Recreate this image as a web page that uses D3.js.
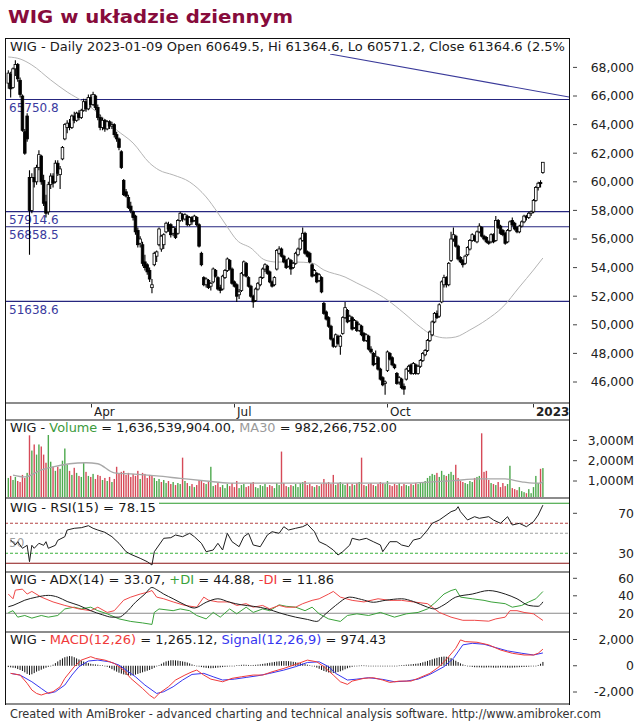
<!DOCTYPE html>
<html><head><meta charset="utf-8">
<script src="https://cdn.jsdelivr.net/npm/d3@7"></script>
<style>body{margin:0;background:#fff}svg{display:block}</style>
</head><body><svg id="c" width="641" height="722"></svg>
<script>
// ---------- DATA ----------
const startDate = "2022-02-11";
const holidays = ["2022-04-15","2022-04-18","2022-05-03","2022-06-16","2022-08-15","2022-11-01","2022-11-11","2022-12-26","2023-01-06"];
const monthTicks = [{ym:"2022-04",label:"Apr"},{ym:"2022-07",label:"Jul"},{ym:"2022-10",label:"Oct"},{ym:"2023-01",label:"2023"}];
// OHLC in thousands of points
const opens = [66.9,67.5,66.6,67.9,68.2,67.1,66.0,63.5,64.6,60.3,
58.0,60.3,60.0,61.0,61.8,60.1,58.6,57.9,59.8,60.4,
60.0,61.3,60.5,61.6,63.0,63.8,64.1,63.8,64.6,64.3,
64.8,64.5,65.0,65.6,65.1,65.9,65.4,66.0,65.2,64.5,
63.8,64.3,63.7,64.2,63.9,64.0,63.3,63.0,62.1,60.1,
59.3,58.9,58.3,57.9,57.6,56.6,55.7,55.6,54.4,54.2,
53.8,52.6,54.2,54.8,55.6,55.3,55.6,56.5,57.0,57.0,
56.4,56.7,56.4,57.3,57.7,57.4,57.6,57.0,57.5,57.3,
57.5,57.0,55.0,53.3,52.8,53.1,52.7,53.0,53.8,53.3,
52.6,52.5,53.3,53.8,54.5,53.9,53.0,52.8,52.1,52.4,
53.5,54.3,53.3,52.7,52.0,51.7,52.5,52.8,53.3,53.9,
54.1,53.7,53.0,52.8,53.9,55.0,55.3,54.8,54.5,54.1,
54.5,54.0,54.3,54.9,55.3,55.9,56.4,55.1,55.0,54.2,
53.5,53.6,53.1,53.3,51.5,50.9,50.5,49.9,49.0,48.5,
49.2,48.5,49.4,50.5,51.0,50.3,50.5,49.8,50.2,49.6,
49.9,49.4,48.9,49.2,48.3,48.0,47.3,47.7,46.9,46.3,
45.9,46.8,48.0,47.7,47.2,46.6,46.0,46.2,45.7,46.2,
46.8,47.2,46.6,47.2,46.6,47.1,47.5,47.9,48.2,48.9,
49.3,50.2,50.8,50.6,51.6,52.8,53.3,52.8,54.5,56.0,
56.2,55.5,54.7,54.5,54.3,54.9,55.3,55.9,56.2,55.8,
56.5,56.8,56.2,56.1,55.8,55.8,56.3,55.9,57.3,56.9,
56.6,56.4,55.8,56.6,57.3,57.1,56.8,56.5,56.9,57.2,
57.6,57.5,57.8,57.9,58.7,59.6,59.95,60.6495];
const highs = [67.8,67.7,68.0,68.5,68.3,67.3,66.1,63.7,64.8,60.8,
60.6,61.0,61.2,62.2,61.9,60.5,59.1,60.0,60.6,60.6,
61.5,61.5,61.1,62.5,64.1,64.3,64.4,64.7,64.9,64.9,
65.0,65.1,65.8,65.8,66.1,66.1,66.3,66.1,65.4,64.7,
64.5,64.4,64.3,64.3,64.2,64.1,63.5,63.1,62.2,60.2,
59.5,59.1,58.6,58.0,57.7,56.8,56.2,55.8,54.9,54.3,
54.0,53.2,55.1,55.2,56.8,56.3,56.4,57.2,57.2,57.1,
56.9,56.8,57.4,57.9,57.8,57.8,57.7,57.6,57.6,57.7,
57.6,57.1,55.1,53.4,53.3,53.2,53.0,54.0,53.9,53.4,
52.8,53.5,53.9,54.7,54.6,54.0,53.1,52.9,52.5,53.7,
54.5,54.4,53.4,52.8,52.1,52.6,53.0,53.4,54.0,54.3,
54.2,53.8,53.1,53.4,55.3,55.5,55.4,54.9,54.6,54.7,
54.6,54.4,55.1,55.4,56.1,56.8,56.5,55.2,55.1,54.3,
53.9,53.7,53.6,53.4,51.6,51.0,50.6,50.0,49.1,49.4,
49.3,49.3,50.6,51.6,51.1,50.7,50.6,50.4,50.3,50.1,
50.0,49.5,49.4,49.3,48.5,48.1,48.2,47.8,47.0,46.4,
46.1,48.2,48.1,47.8,47.3,46.7,46.4,46.3,45.9,47.0,
47.2,47.3,47.4,47.3,47.2,47.6,48.1,48.3,49.0,49.6,
50.3,50.9,51.0,51.5,53.1,53.5,53.4,54.4,56.5,56.8,
56.3,55.6,54.8,54.6,54.9,55.5,56.0,56.4,56.3,56.6,
57.1,56.9,56.3,56.2,55.9,56.4,56.4,57.6,57.4,57.0,
56.7,56.5,56.7,57.3,57.5,57.2,56.9,57.0,57.3,57.7,
57.7,57.9,58.0,58.8,59.7,60.0,60.1,61.3646];
const lows = [66.5,65.9,66.5,67.4,67.0,65.9,63.5,61.9,62.8,54.9,
57.8,59.6,59.8,60.8,59.8,58.3,57.5,57.7,59.5,59.6,
59.9,60.4,59.5,61.5,62.9,63.4,63.6,63.7,64.1,64.2,
64.3,64.4,64.9,64.9,65.0,65.2,65.3,65.0,64.3,63.6,
63.6,63.5,63.6,63.7,63.7,63.1,62.8,62.2,60.9,59.0,
58.9,58.1,57.8,57.3,56.3,55.4,55.4,54.1,53.8,53.5,
53.0,52.2,54.1,54.4,55.5,55.1,55.3,56.4,56.5,56.1,
56.2,56.0,56.3,57.2,57.2,57.3,56.9,56.9,57.0,57.2,
56.9,55.4,54.1,52.7,52.6,52.5,52.4,52.9,53.3,52.4,
52.2,52.4,53.2,53.7,53.8,52.8,52.6,51.6,51.8,52.3,
53.4,53.3,52.6,51.9,51.2,51.6,52.4,52.7,53.2,53.7,
53.5,52.9,52.6,52.7,53.8,54.9,54.7,54.3,53.9,54.0,
53.5,53.9,54.2,54.8,55.2,55.8,54.9,54.7,54.3,53.3,
53.4,52.9,53.0,52.2,50.7,50.3,49.8,48.9,48.4,48.4,
48.6,47.9,49.3,50.4,50.1,50.2,49.6,49.7,49.5,49.5,
49.2,48.8,48.8,48.2,48.0,47.1,47.2,46.8,46.1,45.7,
45.1,46.7,47.5,47.1,46.9,45.8,45.8,45.5,45.1,46.1,
46.7,46.5,46.5,46.5,46.5,47.0,47.4,47.8,48.1,48.8,
49.2,50.1,50.4,50.5,51.5,52.6,52.6,52.7,54.4,55.8,
55.4,54.5,54.3,54.0,54.2,54.8,55.2,55.8,55.8,55.7,
56.4,56.1,55.9,55.7,55.6,55.7,55.7,55.8,56.7,56.3,
56.2,55.6,55.7,56.5,56.9,56.6,56.4,56.4,56.8,57.1,
57.3,57.4,57.6,57.8,58.6,59.4,59.6,60.5712];
const closes = [67.6,66.5,67.9,68.2,67.2,66.1,63.6,62.0,63.0,58.0,
60.3,60.0,61.0,61.9,60.0,58.5,57.8,59.8,60.4,59.9,
61.3,60.6,60.9,62.4,64.0,64.1,63.8,64.6,64.3,64.8,
64.5,65.0,65.6,65.1,65.9,65.4,66.1,65.2,64.5,63.8,
64.3,63.7,64.2,63.9,64.0,63.3,63.0,62.4,61.0,59.1,
59.0,58.2,58.0,57.5,56.5,55.6,56.0,54.3,54.0,53.7,
53.2,52.8,55.0,55.1,56.7,56.2,56.3,57.1,56.7,56.3,
56.8,56.1,57.3,57.8,57.4,57.7,57.0,57.5,57.2,57.6,
57.0,55.5,54.2,52.8,53.2,52.6,52.9,53.9,53.4,52.5,
52.4,53.4,53.8,54.6,53.9,52.9,52.7,52.0,52.3,53.6,
54.4,53.4,52.7,52.0,51.6,52.5,52.9,53.3,53.9,54.2,
53.6,53.0,52.7,53.3,55.2,55.3,54.8,54.4,54.0,54.6,
53.9,54.3,55.0,55.3,56.0,56.4,55.0,54.8,54.4,53.4,
53.8,53.0,53.5,52.3,50.8,50.4,49.9,49.0,48.5,49.3,
48.7,49.2,50.5,51.2,50.2,50.6,49.7,50.3,49.6,50.0,
49.3,48.9,49.3,48.3,48.1,47.2,47.8,46.9,46.2,45.8,
46.0,48.1,47.6,47.2,47.0,45.9,46.3,45.6,45.5,46.9,
47.1,46.6,47.3,46.6,47.1,47.5,48.0,48.2,48.9,49.5,
50.2,50.8,50.5,51.4,53.0,53.3,52.8,54.3,56.0,56.3,
55.5,54.6,54.4,54.2,54.8,55.4,55.9,56.3,55.9,56.5,
56.9,56.2,56.0,55.8,55.7,56.3,55.8,57.3,56.8,56.4,
56.3,55.7,56.6,57.2,57.0,56.7,56.5,56.9,57.2,57.6,
57.5,57.8,57.9,58.7,59.6,59.9,59.87,61.3646];
// moving average on price (bar index, thousands)
const priceMA = [[0,68.73],[5,68.59],[10,68.17],[18,67.12],[25,66.28],[32,65.58],[39,64.67],[46,63.62],[53,62.71],[60,61.31],[64,60.82],[70,60.48],[77,59.99],[84,58.94],[89,57.82],[93,56.84],[97,55.93],[103,55.37],[109,54.53],[114,54.39],[122,54.39],[129,54.32],[134,53.83],[143,53.34],[148,52.92],[154,52.43],[161,51.73],[168,50.82],[175,49.84],[180,49.29],[186,49.08],[190,49.15],[196,49.64],[203,50.34],[210,51.25],[217,52.64],[223,53.83],[227,54.67]];
const levels = [65750.8, 57914.6, 56858.5, 51638.6];
const trendLine = [[136.6,68.94],[238.1,65.93]];
const priceTicks = [46,48,50,52,54,56,58,60,62,64,66,68];
// volume in millions
const volume = [1150,1250,1050,1200,1000,950,1300,1150,1400,3250,
2500,2800,2300,2800,2700,2300,1900,3300,1950,1700,
1500,1700,1600,2000,2600,1800,1500,1300,1650,1400,
1250,1200,1900,1450,1250,1200,1350,1100,1300,1250,
1050,1150,1000,1200,950,1100,1700,1350,1450,1500,
1300,1400,1200,1350,1250,1500,1100,1400,1350,1150,
1300,1250,1150,1000,1100,950,1050,900,1000,850,
950,800,900,850,2150,1000,900,750,850,700,
800,1050,1000,900,850,950,1700,750,800,900,
700,800,650,850,750,900,700,1000,650,800,
850,700,750,900,950,700,650,800,750,850,
700,800,750,650,900,800,2450,900,750,700,
800,750,850,700,900,950,1000,800,850,750,
700,800,750,850,1100,900,950,850,1300,800,
900,950,850,800,900,750,850,800,900,950,
2150,800,750,850,900,800,750,850,950,900,
850,1000,800,750,850,800,900,750,850,800,
750,850,800,900,850,950,900,1000,1150,1250,
1350,1300,1400,1200,1500,1300,1250,1350,1450,1300,
1800,1150,1000,950,900,850,1000,950,1150,1200,
1250,3350,1450,1500,1050,900,850,800,950,700,
900,750,850,1750,650,600,550,700,500,450,
400,600,400,700,1250,900,1600,1636.5];
const volumeMA30 = [[2,1290],[7,1200],[14,1550],[19,1700],[26,1850],[33,1900],[38,1850],[45,1400],[52,1350],[63,1250],[73,1130],[84,1000],[94,900],[118,900],[153,900],[171,900],[180,960],[188,1010],[200,1100],[211,1100],[218,960],[223,900],[226,900],[227,982]];
const volumeTicks = [1000,2000,3000];
const rsi = [[1,43.3],[3,38.3],[4,41.6],[6,35],[8,38],[9,21.6],[10,38],[11,35],[13,40],[15,38],[16,41.6],[17,35],[20,38],[21,43],[24,46.6],[25,53.3],[28,55],[31,55.6],[34,57.6],[36,55],[38,53.3],[41,51],[44,46.6],[47,40],[50,31.6],[52,29],[56,25],[59,21.6],[61,18.3],[62,31.6],[64,38.3],[66,45],[69,45.6],[71,48.3],[74,46.6],[77,50],[79,46.6],[82,40],[84,31.6],[87,33.3],[89,40],[91,33.3],[93,50],[95,41.6],[98,36.6],[100,46.6],[102,50],[104,38.3],[107,36.6],[110,48.3],[112,51.6],[115,50],[117,56.6],[119,53.3],[122,55],[125,56.6],[127,59],[130,51.6],[132,41.6],[135,38.3],[138,33.3],[140,28.3],[142,31.6],[145,38.3],[146,45],[149,43.3],[152,45],[155,41.6],[158,38.3],[159,31.6],[162,41.6],[165,41.6],[167,38.3],[170,36.6],[172,43.3],[175,45],[178,53.3],[180,60],[183,63.3],[185,66.6],[188,71.6],[190,73.3],[191,76.6],[192,71.6],[195,63.3],[198,66.6],[200,65],[204,66.6],[206,63.3],[209,60],[212,66.6],[214,58.3],[217,60],[220,56.6],[223,61.6],[225,68.3],[227,78.15]];
const rsiLevels = [{v:80,c:"#2b9a2b",d:null},{v:60,c:"#b54545",d:"3,2"},{v:50,c:"#a0a0a0",d:"3,2"},{v:30,c:"#3cb03c",d:"3,2"},{v:20,c:"#8b1414",d:null}];
const rsiTicks = [30,70];
const adx = [[0,27.5],[2,29],[7,35],[12,38.5],[17,40.5],[21,38.5],[25,33.5],[30,29],[35,23],[40,18.3],[44,15.6],[47,15.6],[50,21],[54,32.6],[58,42],[61,49.5],[63,47],[66,42],[70,36.6],[75,29.7],[79,26],[84,32.6],[89,36.6],[94,32.6],[99,29.7],[104,28],[110,25],[115,20.6],[122,15.6],[127,13],[131,10.7],[134,17.5],[139,29],[145,38.5],[150,35.8],[155,32.6],[160,34.8],[167,36.6],[172,33.5],[178,27],[181,25],[185,29.7],[190,38.5],[197,42],[204,46],[211,42],[216,36.6],[221,29],[225,28],[227,33.07]];
const plusDI = [[0,20.6],[2,23],[4,15.6],[7,17.5],[10,14.5],[14,17.5],[17,15.6],[21,17.5],[24,25],[28,27],[31,25],[35,27],[38,23],[42,19.4],[47,13.6],[52,10.7],[57,9],[61,7.3],[62,21],[64,25],[70,23],[73,25],[77,23],[80,17.5],[84,13.6],[87,21],[90,15.6],[94,25],[97,19.4],[101,27],[104,21],[108,25],[111,23],[115,29.7],[118,28],[122,27],[126,23],[129,27],[132,19.4],[136,13.6],[141,10.7],[144,17.5],[148,19.4],[153,17.5],[158,21],[164,15.6],[169,19.4],[174,21],[178,25],[181,31.7],[185,42],[188,46],[190,47.6],[192,38.5],[197,36.6],[202,34.8],[205,33],[211,31],[214,27],[218,29],[221,33],[224,36.6],[227,44.88]];
const minusDI = [[0,42],[2,36.6],[3,46.5],[6,47.6],[8,42],[10,45],[14,38.5],[19,33],[24,29],[30,25],[35,23],[38,27],[42,21],[45,23],[49,35],[52,38.5],[56,42],[59,44],[61,46],[63,38.5],[66,36.6],[70,33],[75,29],[80,27],[83,38.5],[85,35],[89,33],[94,33],[97,29],[101,31],[104,27],[108,29],[111,25],[115,29],[118,27],[122,27],[125,31],[129,34.8],[132,36.6],[136,42],[138,45],[141,38.5],[146,34.8],[151,33],[157,36.6],[162,34.8],[167,34.8],[172,33],[178,31],[183,21],[188,15.6],[193,12],[198,12],[204,11],[207,13.6],[211,15.6],[213,23],[216,23],[219,21],[223,19.4],[225,15.6],[227,11.86]];
const adxTicks = [20,40,60];
const macd = [[1,-580],[5,-710],[8,-1340],[10,-1850],[12,-2110],[14,-2230],[16,-2110],[19,-1980],[22,-1600],[24,-960],[28,-70],[31,430],[35,690],[37,560],[41,430],[45,180],[49,-330],[52,-960],[57,-1730],[60,-2240],[62,-2490],[64,-2110],[68,-1600],[71,-1090],[75,-710],[78,-460],[80,-330],[83,-710],[86,-1020],[91,-1220],[95,-960],[99,-840],[104,-710],[108,-710],[112,-460],[117,-200],[122,100],[127,430],[131,300],[134,-70],[138,-710],[141,-1220],[144,-1420],[146,-1170],[151,-960],[155,-910],[159,-1090],[162,-1270],[166,-1170],[171,-1170],[174,-960],[179,-580],[183,-70],[187,690],[190,1330],[192,1970],[194,1840],[199,1790],[204,1590],[209,1200],[214,950],[219,820],[223,820],[225,950],[227,1265.12]];
const signal = [[1,-580],[5,-710],[10,-1220],[14,-1730],[17,-2110],[20,-1980],[24,-1470],[27,-710],[30,-70],[34,360],[38,430],[43,300],[47,50],[50,-330],[54,-840],[58,-1470],[63,-2110],[66,-1980],[70,-1600],[74,-1090],[78,-660],[83,-580],[87,-840],[91,-1090],[96,-1020],[101,-890],[106,-760],[111,-580],[117,-330],[122,-70],[127,250],[132,300],[136,-70],[139,-580],[144,-1090],[148,-1020],[153,-910],[159,-1040],[164,-1220],[169,-1170],[174,-1020],[179,-660],[185,-70],[189,560],[193,1590],[197,1710],[202,1640],[207,1380],[212,1130],[218,950],[223,820],[227,974.43]];
const macdHist = [-100,-120,-150,-180,-250,-320,-400,-500,-620,-700,
-650,-560,-450,-380,-300,-220,-150,-80,0,80,
200,330,450,560,650,700,740,720,650,560,
480,400,320,250,200,150,120,100,80,50,
30,0,-80,-160,-260,-360,-450,-530,-600,-660,
-700,-730,-750,-720,-680,-620,-560,-500,-440,-380,
-320,-250,-150,-50,50,150,250,330,380,420,
420,410,390,360,330,300,250,180,100,40,
-20,-60,-100,-130,-160,-180,-190,-180,-160,-140,
-120,-100,-80,-60,-40,-20,0,30,50,70,
80,70,60,50,60,70,90,110,140,170,
200,230,260,290,320,340,350,360,360,350,
330,300,270,240,200,160,120,80,40,0,
-60,-140,-230,-320,-400,-460,-510,-540,-550,-530,
-480,-420,-350,-270,-190,-130,-80,-40,-10,10,
20,20,10,0,-10,-20,-30,-40,-40,-50,
-50,-40,-30,-20,-10,0,20,40,60,80,
90,110,130,150,170,210,260,310,370,430,
490,550,600,650,680,700,690,650,580,480,
380,280,180,100,40,-20,-60,-90,-110,-120,
-120,-130,-140,-130,-120,-130,-140,-150,-140,-130,
-120,-130,-140,-150,-140,-130,-120,-110,-100,-90,
-80,-70,-50,-30,0,60,150,290];
const macdTicks = [-2000,0,2000];

// ---------- HELPERS ----------
const FONT = "'DejaVu Sans', Verdana, sans-serif";
const svg = d3.select("#c").attr("font-family", FONT);
const N = closes.length;
// trading calendar
const hol = new Set(holidays);
const dates = [];
{ let d = new Date(startDate + "T12:00:00Z");
  while (dates.length < N) {
    const s = d.toISOString().slice(0,10), wd = d.getUTCDay();
    if (wd !== 0 && wd !== 6 && !hol.has(s)) dates.push(s);
    d = new Date(d.getTime() + 86400000);
  } }
const bars = d3.range(N).map(i => ({i, date: dates[i], o: opens[i], h: highs[i], l: lows[i], c: closes[i], v: volume[i], up: i === 0 ? closes[0] >= opens[0] : closes[i] >= closes[i-1]}));

const L = 5, R = 569;
const x = d3.scaleLinear().domain([0, 227]).range([8.3, 542.9]);
const yP = d3.scaleLinear().domain([46, 66]).range([382, 96]);
const yV = d3.scaleLinear().domain([1000, 3000]).range([481, 440.4]);
const yR = d3.scaleLinear().domain([30, 70]).range([553.3, 513.3]);
const yA = d3.scaleLinear().domain([20, 60]).range([613.3, 578.3]);
const yM = d3.scaleLinear().domain([-2000, 2000]).range([692, 639.5]);

const defs = svg.append("defs");
function clip(id, y0, y1) {
  defs.append("clipPath").attr("id", id).append("rect").attr("x", L + 1).attr("y", y0).attr("width", R - L - 1).attr("height", y1 - y0);
  return svg.append("g").attr("clip-path", `url(#${id})`);
}
const fmt = d3.format(",");
const fmtNum = v => fmt(v).replace("\u2212", "-");
function axisLabels(ticks, scale, fmtF) {
  ticks.forEach(t => {
    const yy = scale(t);
    svg.append("line").attr("x1", 573).attr("x2", 577).attr("y1", yy).attr("y2", yy).attr("stroke", "#444").attr("stroke-width", 1);
    svg.append("text").attr("x", 634).attr("y", yy).attr("dy", "0.36em").attr("text-anchor", "end")
      .attr("font-size", 12.4).attr("fill", "#222").text(fmtF(t));
  });
}
function header(yBase, parts, width) {
  const t = svg.append("text").attr("x", 10).attr("y", yBase).attr("font-size", 11.5).attr("fill", "#1a1a1a")
    .attr("textLength", width).attr("lengthAdjust", "spacingAndGlyphs");
  parts.forEach(p => t.append("tspan").attr("fill", p[1] || "#1a1a1a").text(p[0]));
  return t;
}
function headerBg(yBase, width) {
  svg.append("rect").attr("x", L + 1).attr("y", yBase - 10).attr("width", width + 6).attr("height", 13).attr("fill", "#fff");
}

// ---------- TITLE ----------
svg.append("text").attr("x", 8).attr("y", 23).attr("font-size", 18.5).attr("font-weight", "bold")
  .attr("fill", "#870c3c").attr("textLength", 285).attr("lengthAdjust", "spacingAndGlyphs").text("WIG w układzie dziennym");

// ---------- MAIN PRICE PANEL ----------
const gP = clip("cp", 38.5, 402.5);
levels.forEach(lv => {
  const yy = yP(lv / 1000);
  gP.append("line").attr("x1", L).attr("x2", R).attr("y1", yy).attr("y2", yy).attr("stroke", "#26267f").attr("stroke-width", 1.1);
  gP.append("text").attr("x", 9).attr("y", yy + 12.2).attr("font-size", 12).attr("fill", "#3a3a9e").text(lv.toFixed(1));
});
gP.append("path").datum(priceMA).attr("fill", "none").attr("stroke", "#b4b4b4").attr("stroke-width", 1)
  .attr("d", d3.line().x(d => x(d[0])).y(d => yP(d[1])).curve(d3.curveMonotoneX));
gP.append("path").datum(trendLine).attr("fill", "none").attr("stroke", "#3a3a9a").attr("stroke-width", 1.1)
  .attr("d", d3.line().x(d => x(d[0])).y(d => yP(d[1])));
bars.forEach(b => {
  const cx = x(b.i);
  gP.append("line").attr("x1", cx).attr("x2", cx).attr("y1", yP(b.h)).attr("y2", yP(b.l)).attr("stroke", "#000").attr("stroke-width", 1.1);
  const top = yP(Math.max(b.o, b.c)), bot = yP(Math.min(b.o, b.c));
  gP.append("rect").attr("x", cx - 1.3).attr("width", 2.6).attr("y", top).attr("height", Math.max(bot - top, 0.8))
    .attr("fill", b.c >= b.o ? "#fff" : "#000").attr("stroke", "#000").attr("stroke-width", 0.8);
});
axisLabels(priceTicks, yP, t => fmt(t * 1000));
headerBg(51, 556);
header(51, [["WIG - Daily 2023-01-09 Open 60649.5, Hi 61364.6, Lo 60571.2, Close 61364.6 (2.5%"]], 555);

// x axis strip
monthTicks.forEach(mt => {
  const idx = dates.findIndex(d => d.startsWith(mt.ym));
  if (idx < 0) return;
  const xx = Math.round(x(idx)) + 0.5;
  svg.append("line").attr("x1", xx).attr("x2", xx).attr("y1", 403).attr("y2", 407.5).attr("stroke", "#333");
  svg.append("text").attr("x", xx + 2.5).attr("y", 415.5).attr("font-size", 12)
    .attr("font-weight", mt.label === "2023" ? "bold" : "normal").attr("fill", "#222").text(mt.label);
});

// ---------- VOLUME ----------
const gV = clip("cv", 421, 497);
bars.forEach(b => {
  const yy = yV(b.v);
  gV.append("rect").attr("x", x(b.i) - 0.7).attr("width", 1.4).attr("y", yy).attr("height", 497 - yy)
    .attr("fill", b.up ? "#4ea94e" : "#d64a58");
});
gV.append("path").datum(volumeMA30).attr("fill", "none").attr("stroke", "#a8a8a8").attr("stroke-width", 1.3)
  .attr("d", d3.line().x(d => x(d[0])).y(d => yV(d[1])).curve(d3.curveMonotoneX));
axisLabels(volumeTicks, yV, t => fmt(t) + "M");
headerBg(432, 388);
header(432, [["WIG - "], ["Volume", "#3c9a3c"], [" = 1,636,539,904.00, "], ["MA30", "#9a9a9a"], [" = 982,266,752.00"]], 387);

// ---------- RSI ----------
const gR = clip("cr", 499, 571);
rsiLevels.forEach(l => {
  gR.append("line").attr("x1", L).attr("x2", R).attr("y1", yR(l.v)).attr("y2", yR(l.v)).attr("stroke", l.c)
    .attr("stroke-width", 1.1).attr("stroke-dasharray", l.d);
});
gR.append("text").attr("x", 9).attr("y", 547).attr("font-size", 12).attr("fill", "#a0a0a0").text("50");
gR.append("path").datum(rsi).attr("fill", "none").attr("stroke", "#1e1e1e").attr("stroke-width", 1)
  .attr("d", d3.line().x(d => x(d[0])).y(d => yR(d[1])));
axisLabels(rsiTicks, yR, t => String(t));
headerBg(511.5, 147);
header(511.5, [["WIG - RSI(15) = 78.15"]], 146);

// ---------- ADX ----------
const gA = clip("ca", 573, 631);
gA.append("line").attr("x1", L).attr("x2", R).attr("y1", yA(20)).attr("y2", yA(20)).attr("stroke", "#8a8a8a").attr("stroke-width", 1.1);
const lineA = d3.line().x(d => x(d[0])).y(d => yA(d[1]));
gA.append("path").datum(plusDI).attr("fill", "none").attr("stroke", "#3aa23a").attr("stroke-width", 1).attr("d", lineA);
gA.append("path").datum(minusDI).attr("fill", "none").attr("stroke", "#f04848").attr("stroke-width", 1).attr("d", lineA);
gA.append("path").datum(adx).attr("fill", "none").attr("stroke", "#1e1e1e").attr("stroke-width", 1).attr("d", lineA.curve(d3.curveMonotoneX));
axisLabels(adxTicks, yA, t => String(t));
headerBg(584, 325);
header(584, [["WIG - ADX(14) = 33.07, "], ["+DI", "#3aa23a"], [" = 44.88, "], ["-DI", "#f03a3a"], [" = 11.86"]], 324);

// ---------- MACD ----------
const gM = clip("cm", 633, 703);
macdHist.forEach((h, i) => {
  const y0 = yM(0), y1 = yM(h);
  gM.append("rect").attr("x", x(i) - 0.5).attr("width", 1).attr("y", Math.min(y0, y1)).attr("height", Math.max(Math.abs(y1 - y0), 0.6)).attr("fill", "#111");
});
const lineM = d3.line().x(d => x(d[0])).y(d => yM(d[1]));
gM.append("path").datum(signal).attr("fill", "none").attr("stroke", "#3636f0").attr("stroke-width", 1).attr("d", lineM);
gM.append("path").datum(macd).attr("fill", "none").attr("stroke", "#f03a3a").attr("stroke-width", 1).attr("d", lineM);
axisLabels(macdTicks, yM, fmtNum);
headerBg(644, 377);
header(644, [["WIG - "], ["MACD(12,26)", "#f03a3a"], [" = 1,265.12, "], ["Signal(12,26,9)", "#3636f0"], [" = 974.43"]], 376);

// ---------- FRAMES ----------
svg.append("line").attr("x1", L).attr("x2", R + 0.5).attr("y1", 38.5).attr("y2", 38.5).attr("stroke", "#111");
[403, 420, 498, 572, 632, 704].forEach(yy => {
  svg.append("line").attr("x1", L).attr("x2", R + 1).attr("y1", yy).attr("y2", yy).attr("stroke", "#8c8c8c").attr("stroke-width", 2);
});
svg.append("line").attr("x1", L + 0.5).attr("x2", L + 0.5).attr("y1", 38).attr("y2", 705).attr("stroke", "#111");
svg.append("line").attr("x1", R + 0.5).attr("x2", R + 0.5).attr("y1", 38).attr("y2", 705).attr("stroke", "#111");

// ---------- FOOTER ----------
svg.append("text").attr("x", 10).attr("y", 717.5).attr("font-size", 11.5).attr("fill", "#333")
  .attr("textLength", 591).attr("lengthAdjust", "spacingAndGlyphs")
  .text("Created with AmiBroker - advanced charting and technical analysis software. http://www.amibroker.com");
</script></body></html>
